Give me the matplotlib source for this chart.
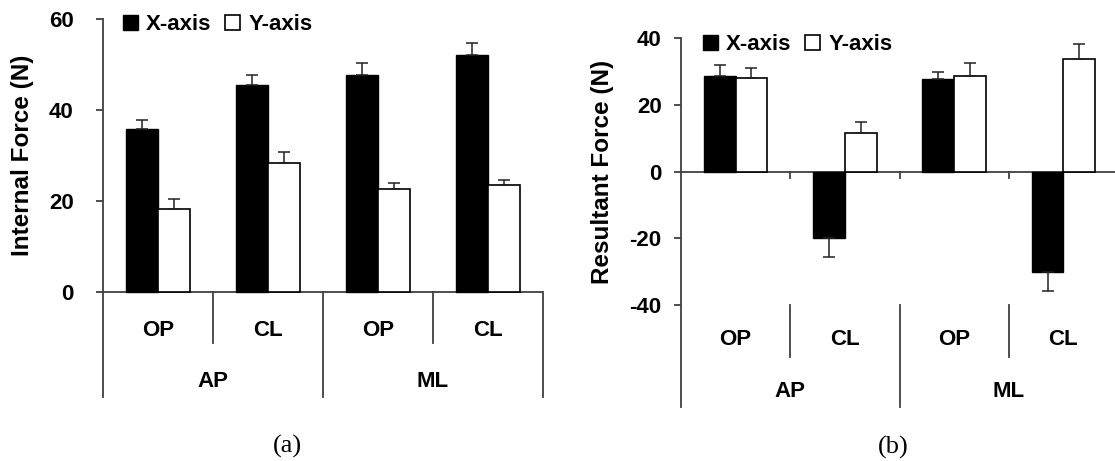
import matplotlib.pyplot as plt
import numpy as np
from matplotlib.patches import Patch

plt.rcParams['font.family'] = ['Liberation Sans', 'DejaVu Sans']
plt.rcParams['font.weight'] = 'bold'

# ---- data (mean, sd) ----
conditions = ['OP', 'CL', 'OP', 'CL']
planes = ['AP', 'ML']

internal_x = [35.8, 45.4, 47.6, 52.1]
internal_x_sd = [2.0, 2.3, 2.6, 2.5]
internal_y = [18.3, 28.4, 22.5, 23.4]
internal_y_sd = [2.0, 2.3, 1.4, 1.1]

resultant_x = [28.8, -19.9, 27.7, -30.0]
resultant_x_sd = [3.2, 5.6, 2.3, 5.8]
resultant_y = [28.1, 11.5, 28.8, 33.9]
resultant_y_sd = [3.0, 3.4, 3.9, 4.3]

AXC = '#404040'
FS = 16
bw = 0.29
xc = np.arange(4) + 0.5


def one_sided(vals, sd):
    vals = np.asarray(vals)
    sd = np.asarray(sd)
    lo = np.where(vals < 0, sd, 0)
    hi = np.where(vals >= 0, sd, 0)
    return [lo, hi]


def draw_panel(ax, xv, xsd, yv, ysd, yticks, ybot, ylab, ylab_y, sep0,
               sep_top, sep_small, lab1_y, lab2_y, tickpad):
    ax.bar(xc - bw / 2, xv, bw, color='black', edgecolor='black', lw=1.0, zorder=3)
    ax.bar(xc + bw / 2, yv, bw, color='white', edgecolor='black', lw=1.2, zorder=3)
    ax.errorbar(xc - bw / 2, xv, yerr=one_sided(xv, xsd), fmt='none',
                ecolor='#222222', elinewidth=1.1, capsize=4, capthick=1.1, zorder=4)
    ax.errorbar(xc + bw / 2, yv, yerr=one_sided(yv, ysd), fmt='none',
                ecolor='#222222', elinewidth=1.1, capsize=4, capthick=1.1, zorder=4)

    ax.set_xlim(0, 4)
    ax.set_ylim(ybot, yticks[-1])
    ax.set_yticks(yticks)
    ax.set_yticklabels([str(t) for t in yticks])
    ax.set_xticks([])
    for s in ['top', 'right', 'bottom']:
        ax.spines[s].set_visible(False)
    ax.spines['left'].set_color(AXC)
    ax.spines['left'].set_linewidth(1.3)
    ax.tick_params(axis='y', direction='out', length=5, width=1.3, color=AXC,
                   labelsize=FS, pad=tickpad)
    ax.axhline(0, color=AXC, lw=1.3, zorder=2)

    # zero-line ticks between categories
    if sep0 is not None:
        for xs in [1, 2, 3]:
            ax.plot([xs, xs], [0, sep0], color=AXC, lw=1.3, clip_on=False)
    # category separators
    for xs in [1, 3]:
        ax.plot([xs, xs], [sep_top, sep_small], color=AXC, lw=1.3, clip_on=False)
    for xs in [2, 4]:
        ax.plot([xs, xs], [sep_top, ybot], color=AXC, lw=1.3, clip_on=False)

    for x, c in zip(xc, conditions):
        ax.text(x, lab1_y, c, ha='center', va='center', fontsize=FS, fontweight='bold')
    for x, p in zip([1, 3], planes):
        ax.text(x, lab2_y, p, ha='center', va='center', fontsize=FS, fontweight='bold')

    ax.text(-0.0, ylab_y, ylab, rotation=90, ha='center', va='center',
            fontsize=17.5, fontweight='bold', transform=ax.transData)

    handles = [Patch(facecolor='black', edgecolor='black'),
               Patch(facecolor='white', edgecolor='black', lw=1.2)]
    return handles


fig = plt.figure(figsize=(11.15, 4.61), dpi=100)

# (a) internal force
ax1 = fig.add_axes([103 / 1115, 1 - 397 / 461, 440 / 1115, (397 - 18.7) / 461])
h = draw_panel(ax1, internal_x, internal_x_sd, internal_y, internal_y_sd,
               [0, 20, 40, 60], -23.1, 'Internal Force (N)', 30, None,
               0, -11.3, -8.4, -19.6, 16)
ax1.texts[-1].set_x(-0.73)
ax1.legend(h, ['X-axis', 'Y-axis'], ncol=2, frameon=False, loc='upper left',
           bbox_to_anchor=(0.045, 1.012), borderpad=0, borderaxespad=0,
           handlelength=0.68, handleheight=0.62, handletextpad=0.36,
           columnspacing=0.62, prop={'size': FS, 'weight': 'bold'})

# (b) resultant force
ax2 = fig.add_axes([681 / 1115, 1 - 407 / 461, 437 / 1115, (407 - 38.3) / 461])
h = draw_panel(ax2, resultant_x, resultant_x_sd, resultant_y, resultant_y_sd,
               [-40, -20, 0, 20, 40], -70.6, 'Resultant Force (N)', 0, -1.8,
               -40, -55.6, -50.4, -66, 9)
ax2.texts[-1].set_x(-0.72)
ax2.legend(h, ['X-axis', 'Y-axis'], ncol=2, frameon=False, loc='upper left',
           bbox_to_anchor=(0.05, 1.011), borderpad=0, borderaxespad=0,
           handlelength=0.68, handleheight=0.62, handletextpad=0.36,
           columnspacing=0.62, prop={'size': FS, 'weight': 'bold'})

fig.text(287 / 1115, 1 - 446 / 461, '(a)', ha='center', va='center',
         fontsize=19, fontweight='normal', family='Liberation Serif')
fig.text(893 / 1115, 1 - 447 / 461, '(b)', ha='center', va='center',
         fontsize=19, fontweight='normal', family='Liberation Serif')

fig.savefig('out.png', dpi=100)
plt.close(fig)
